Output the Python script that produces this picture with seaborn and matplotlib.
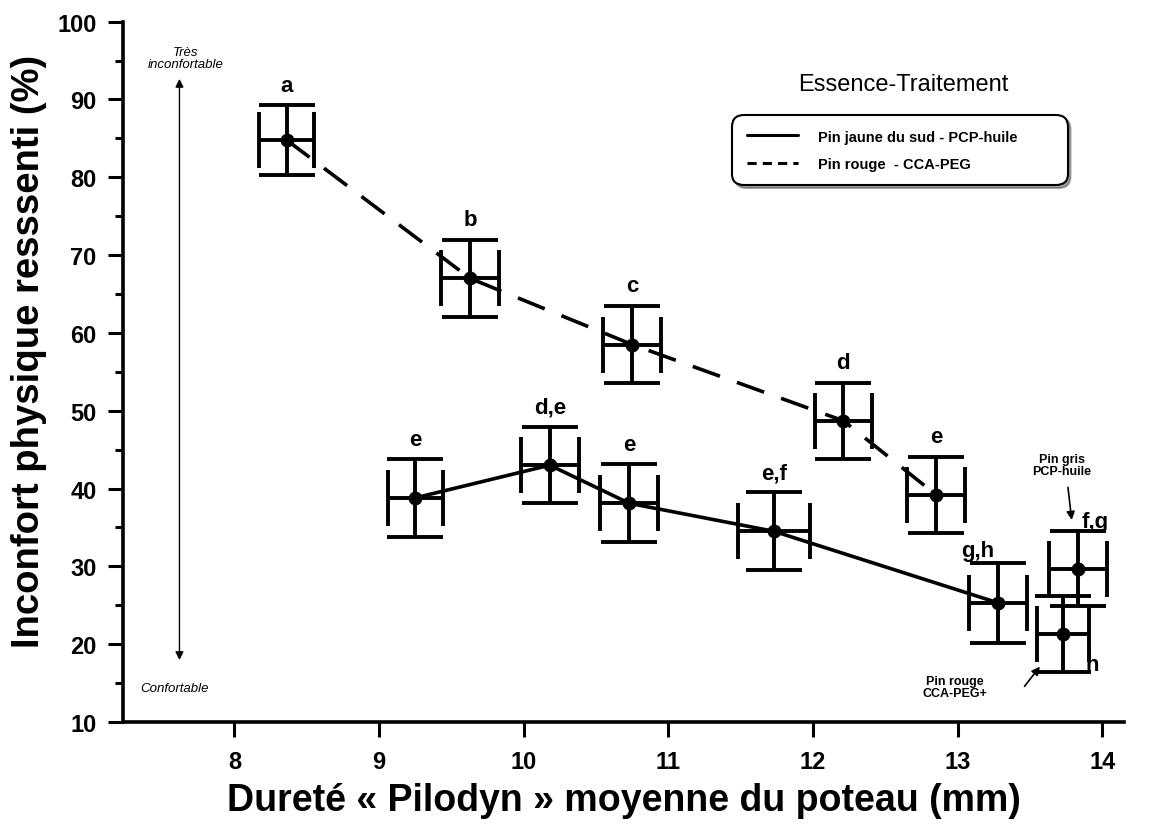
import numpy as np
import pandas as pd
import matplotlib
matplotlib.use("Agg")
import matplotlib.pyplot as plt
import seaborn as sns
from matplotlib.lines import Line2D
from matplotlib.ticker import MultipleLocator

# ---- data ----
rouge_x = [8.36, 9.63, 10.75, 12.21, 12.85]
rouge_y = [84.8, 67.0, 58.5, 48.7, 39.2]
rouge_xerr = [0.19, 0.20, 0.20, 0.20, 0.20]
rouge_yerr = [4.5, 5.0, 5.0, 4.9, 4.9]
rouge_lettres = ["a", "b", "c", "d", "e"]

jaune_x = [9.25, 10.18, 10.73, 11.73, 13.28]
jaune_y = [38.8, 43.0, 38.1, 34.5, 25.3]
jaune_xerr = [0.19, 0.20, 0.20, 0.25, 0.20]
jaune_yerr = [5.0, 4.9, 5.0, 5.0, 5.1]
jaune_lettres = ["e", "d,e", "e", "e,f", "g,h"]

autres_x = [13.83, 13.73]
autres_y = [29.7, 21.3]
autres_xerr = [0.20, 0.18]
autres_yerr = [4.85, 4.9]
autres_lettres = ["f,g", "h"]

serie_jaune = "Pin jaune du sud - PCP-huile"
serie_rouge = "Pin rouge  - CCA-PEG"

sns.set_style("ticks", {"axes.edgecolor": "black", "text.color": "black",
                        "axes.labelcolor": "black", "xtick.color": "black",
                        "ytick.color": "black"})
plt.rcParams['font.family'] = ['Liberation Sans', 'DejaVu Sans']

fig = plt.figure(figsize=(11.51, 8.29), dpi=100)
ax = fig.add_axes([0.1069, 0.1279, 0.8697, 0.8448])

df = pd.DataFrame({
    "x": jaune_x + rouge_x,
    "y": jaune_y + rouge_y,
    "serie": [serie_jaune] * len(jaune_x) + [serie_rouge] * len(rouge_x),
})
sns.lineplot(data=df, x="x", y="y", style="serie",
             dashes={serie_jaune: "", serie_rouge: (8, 5)},
             color="black", lw=2.6, ax=ax, legend=False, sort=False)

ekw = dict(fmt="o", color="black", ms=9, elinewidth=2.8, capsize=20,
           capthick=2.8, zorder=5)
for xs, ys, xe, ye in [(rouge_x, rouge_y, rouge_xerr, rouge_yerr),
                       (jaune_x, jaune_y, jaune_xerr, jaune_yerr),
                       (autres_x, autres_y, autres_xerr, autres_yerr)]:
    ax.errorbar(xs, ys, xerr=xe, yerr=ye, **ekw)

lab_kw = dict(fontsize=16, fontweight="bold", color="black")
for xs, ys, ye, labs in [(rouge_x, rouge_y, rouge_yerr, rouge_lettres),
                         (jaune_x, jaune_y, jaune_yerr, jaune_lettres)]:
    for x, y, e, l in zip(xs, ys, ye, labs):
        if l == "g,h":
            ax.text(x - 0.03, y + e + 0.3, l, ha="right", va="bottom", **lab_kw)
        else:
            ax.text(x, y + e + 1.2, l, ha="center", va="bottom", **lab_kw)
ax.text(autres_x[0] + 0.03, autres_y[0] + autres_yerr[0] - 0.2, autres_lettres[0],
        ha="left", va="bottom", **lab_kw)
ax.text(autres_x[1] + 0.15, autres_y[1] - autres_yerr[1] - 0.4, autres_lettres[1],
        ha="left", va="bottom", **lab_kw)

# side annotations
ax.annotate("", xy=(7.62, 93.0), xytext=(7.62, 17.6),
            arrowprops=dict(arrowstyle="<|-|>", color="black", lw=1.0,
                            mutation_scale=12))
ax.text(7.66, 95.3, "Très\ninconfortable", ha="center", va="center",
        fontsize=9.5, fontstyle="italic", linespacing=0.95)
ax.text(7.35, 14.4, "Confortable", ha="left", va="center",
        fontsize=9.5, fontstyle="italic")

ax.text(13.72, 43.0, "Pin gris\nPCP-huile", ha="center", va="center",
        fontsize=9, fontweight="bold", linespacing=0.95)
ax.annotate("", xy=(13.79, 35.6), xytext=(13.76, 40.5),
            arrowprops=dict(arrowstyle="-|>", color="black", lw=1.2,
                            mutation_scale=12))
ax.text(12.98, 14.5, "Pin rouge\nCCA-PEG+", ha="center", va="center",
        fontsize=9, fontweight="bold", linespacing=0.9)
ax.annotate("", xy=(13.58, 17.4), xytext=(13.45, 14.3),
            arrowprops=dict(arrowstyle="-|>", color="black", lw=1.2,
                            mutation_scale=12))

# legend
handles = [Line2D([], [], color="black", lw=2.2, ls="-"),
           Line2D([], [], color="black", lw=2.2, ls=(0, (3, 2)))]
leg = ax.legend(handles, [serie_jaune, serie_rouge], loc="upper left",
                bbox_to_anchor=(0.604, 0.767, 0.344, 0.106), mode="expand",
                fancybox=True, shadow=True,
                frameon=True, edgecolor="black", handlelength=3.5,
                borderpad=0.8, labelspacing=0.9, handletextpad=1.4,
                prop=dict(size=10.5, weight="bold"))
leg.get_frame().set_linewidth(1.5)
leg.get_frame().set_boxstyle("round,pad=0.2,rounding_size=0.8")
ax.text(0.779, 0.911, "Essence-Traitement", transform=ax.transAxes,
        ha="center", va="center", fontsize=17)

ax.set_xlim(7.23, 14.15)
ax.set_ylim(10, 100)
ax.xaxis.set_major_locator(MultipleLocator(1))
ax.yaxis.set_major_locator(MultipleLocator(10))
ax.yaxis.set_minor_locator(MultipleLocator(5))
ax.tick_params(axis="both", which="major", direction="out", length=11,
               width=2.2, labelsize=17, pad=8, colors="black")
ax.tick_params(axis="y", which="minor", direction="out", length=6, width=2.2,
               colors="black")
for t in ax.get_xticklabels() + ax.get_yticklabels():
    t.set_fontweight("bold")
ax.tick_params(axis="x", pad=9)
sns.despine(ax=ax)
for s in ["left", "bottom"]:
    ax.spines[s].set_linewidth(2.6)
    ax.spines[s].set_color("black")

ax.set_xlabel("Dureté « Pilodyn » moyenne du poteau (mm)", fontsize=27,
              fontweight="bold", labelpad=7, color="black")
ax.set_ylabel("Inconfort physique resssenti (%)", fontsize=27.5,
              fontweight="bold", va="center", color="black")
ax.yaxis.set_label_coords(-0.094, 0.53)

fig.savefig("out.png", dpi=100)
